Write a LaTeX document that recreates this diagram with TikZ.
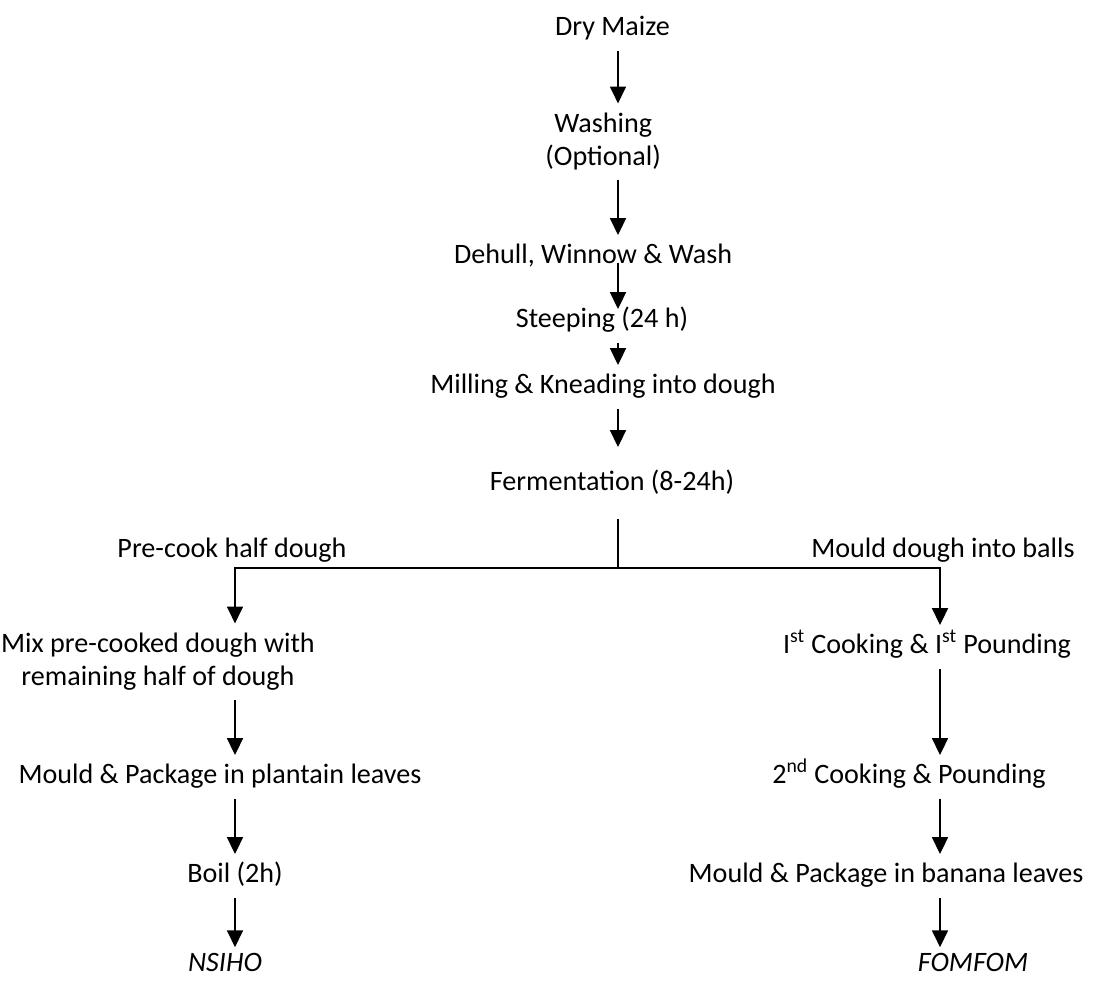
\documentclass[tikz,border=0pt]{standalone}
\usepackage{fontspec}
\setmainfont{Carlito}
\usetikzlibrary{arrows.meta}

\begin{document}
\begin{tikzpicture}[
  stage/.style={font=\fontsize{20}{22.8}\selectfont,inner sep=0pt,outer sep=0.25cm,
    text height=0.45cm,text depth=0.15cm,anchor=base},
  twoline/.style={font=\fontsize{20}{22.8}\selectfont,inner sep=0pt,outer sep=0.25cm,
    align=center,anchor=base},
  flow/.style={-{Triangle[length=0.42cm,width=0.4cm]},line width=1pt}
]
  \useasboundingbox (0,0) rectangle (27.575,-24.5);
  % x positions of the arrows
  \coordinate (spine) at (15.45,0);
  \coordinate (leftx) at (5.875,0);
  \coordinate (rightx) at (23.5,0);
  % common steps
  \node[stage] (dry) at (15.31,-0.875) {Dry Maize};
  \node[twoline] (wash) at (15.08,-4.125) {Washing\\(Optional)};
  \node[stage] (dehull) at (14.83,-6.575) {Dehull, Winnow \& Wash};
  \node[stage] (steep) at (15.05,-8.175) {Steeping (24 h)};
  \node[stage] (mill) at (15.075,-9.825) {Milling \& Kneading into dough};
  \node[stage] (ferm) at (15.3,-12.25) {Fermentation (8-24h)};
  \draw[flow] (dry.south -| spine) -- (wash.north -| spine);
  \draw[flow] (wash.south -| spine) -- (dehull.north -| spine);
  \draw[flow,shorten >=-0.25cm] (dehull.base -| spine) -- (steep.north -| spine);
  \draw[flow] (steep.south -| spine) -- (mill.north -| spine);
  \draw[flow,shorten >=0.375cm] (mill.south -| spine) -- (ferm.north -| spine);
  % split into two products
  \coordinate (split) at (15.45,-14.2);
  \node[stage] (precook) at (5.8,-13.925) {Pre-cook half dough};
  \node[stage] (balls) at (23.575,-13.925) {Mould dough into balls};
  \draw[line width=1pt,shorten <=0.33cm] (ferm.south -| spine) -- (split);
  % nsiho branch
  \node[twoline] (mix) at (3.95,-17.125) {Mix pre-cooked dough with\\remaining half of dough};
  \node[stage] (plantain) at (5.5,-19.575) {Mould \& Package in plantain leaves};
  \node[stage] (boil) at (5.875,-22.05) {Boil (2h)};
  \node[stage] (nsiho) at (5.625,-24.28) {\textit{NSIHO}};
  \draw[flow] (split) -| (mix.north -| leftx);
  \draw[flow] (mix.south -| leftx) -- (plantain.north -| leftx);
  \draw[flow] (plantain.south -| leftx) -- (boil.north -| leftx);
  \draw[flow,shorten >=-0.1cm] (boil.south -| leftx) -- (nsiho.north -| leftx);
  % fomfom branch
  \node[stage] (first) at (23.175,-16.325) {I\textsuperscript{st} Cooking \& I\textsuperscript{st} Pounding};
  \node[stage] (second) at (22.725,-19.575) {2\textsuperscript{nd} Cooking \& Pounding};
  \node[stage] (banana) at (22.15,-22.05) {Mould \& Package in banana leaves};
  \node[stage] (fomfom) at (24.325,-24.28) {\textit{FOMFOM}};
  \draw[flow] (split) -| (first.north -| rightx);
  \draw[flow] (first.south -| rightx) -- (second.north -| rightx);
  \draw[flow] (second.south -| rightx) -- (banana.north -| rightx);
  \draw[flow,shorten >=-0.1cm] (banana.south -| rightx) -- (fomfom.north -| rightx);
\end{tikzpicture}
\end{document}
